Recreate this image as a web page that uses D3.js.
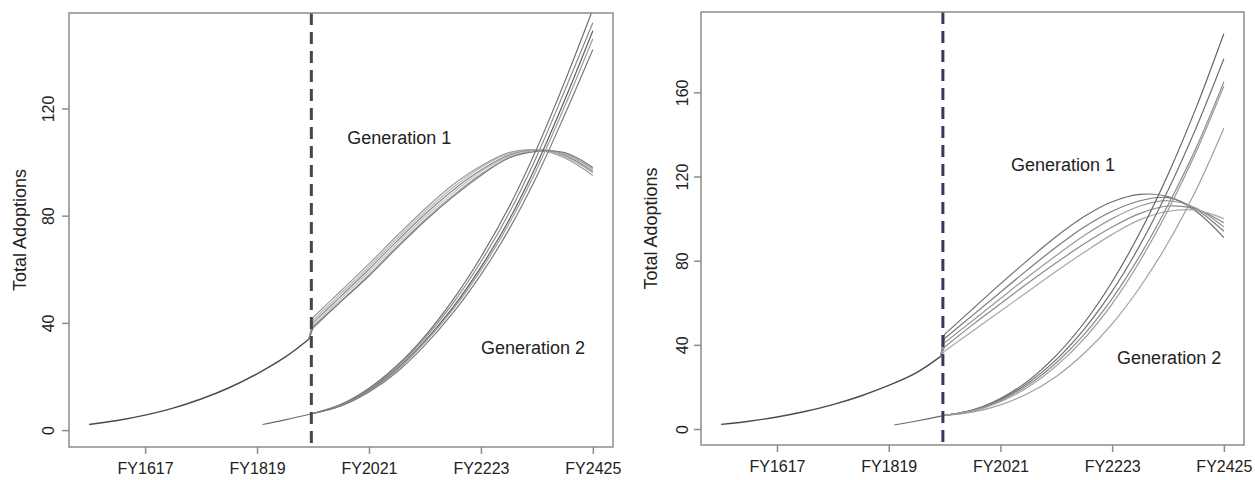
<!DOCTYPE html>
<html>
<head>
<meta charset="utf-8">
<script src="https://cdn.jsdelivr.net/npm/d3@7"></script>
<style>
    body { margin: 0; background: #fff; }
    svg { display: block; font-family: "Liberation Sans", Arial, sans-serif; }
</style>
</head>
<body>
<div id="chart"></div>
<script>
// ---- data ----
const tickYears = [2016, 2018, 2020, 2022, 2024];
const tickLabels = ['FY1617', 'FY1819', 'FY2021', 'FY2223', 'FY2425'];
const histYears = [2015, 2015.5, 2016, 2016.5, 2017, 2017.5, 2018, 2018.5, 2018.93];
const gen2HistYears = [2018.1, 2018.5, 2019];
const forecastYears = [2019, 2019.5, 2020, 2020.5, 2021, 2021.5, 2022, 2022.5, 2023, 2023.5, 2024];
const cutoffYear = 2018.97;

// left panel
const leftHist = [2.1, 3.6, 5.6, 8.2, 11.6, 15.8, 21.0, 27.2, 34.0];
const leftGen2Hist = [2.1, 3.8, 6.2];
const leftGen1 = [
    [42, 52, 62, 72.5, 82.5, 91.5, 98.5, 103.5, 104.5, 101.5, 95],
    [41, 51, 61, 71.5, 81.5, 90.5, 98, 103, 104.5, 102, 96],
    [40, 50, 60, 70.5, 80.5, 89.5, 97, 102.5, 104.5, 102.5, 96.5],
    [39, 49, 59, 69.5, 79.5, 88.5, 96.5, 102, 104.5, 103, 97],
    [38, 48, 58, 68.5, 78.5, 87.5, 95.5, 101.5, 104.5, 103, 97.5],
    [38.5, 48, 57.5, 68, 78, 87, 95, 101.5, 104, 103.5, 98]
];
const leftGen2 = [
    [6.2, 9.6, 15.6, 24.1, 35.1, 48.6, 64.6, 83.1, 105.1, 130.1, 157],
    [6.2, 9.4, 15.2, 23.5, 34.3, 47.3, 62.8, 80.8, 102.3, 126.8, 152],
    [6.2, 9.3, 14.8, 22.8, 33.3, 45.8, 60.8, 78.3, 99.3, 123.3, 149],
    [6.2, 9.2, 14.6, 22.4, 32.7, 45, 59.7, 76.9, 97.4, 120.9, 146],
    [6.2, 9, 14.2, 21.7, 31.7, 43.7, 58, 74.8, 94.8, 117.8, 142]
];
const leftYTicks = [0, 40, 80, 120];

// right panel
const rightHist = [2.2, 3.7, 5.7, 8.3, 11.6, 15.7, 20.7, 26.8, 34.5];
const rightGen2Hist = [1.9, 3.8, 6.5];
const rightGen1 = [
    [45, 57, 69, 80.5, 91.5, 101, 108, 111.5, 110.5, 103.5, 91],
    [43, 54, 65, 76, 86.5, 96, 103.5, 108.5, 110, 104.5, 94],
    [41, 51.5, 62, 72.5, 82.5, 92, 100, 106, 108.5, 105, 96],
    [39, 49.5, 59.5, 69.5, 79, 88, 96, 102.5, 106, 104.5, 98],
    [37, 46.5, 56, 65.5, 75, 84, 92.5, 99.5, 103.5, 104, 100]
];
const rightGen2 = [
    [6.5, 9, 14.5, 23, 35, 50.5, 70, 93.5, 121, 152.5, 188],
    [6.5, 9, 14, 22, 33, 47.5, 65.5, 87.5, 113.5, 143, 176],
    [6.5, 8.8, 13.5, 21, 31.5, 45, 62, 82.5, 106.5, 133.5, 165],
    [6.5, 8.5, 13, 20, 30, 43, 59.5, 80, 104, 131.5, 163],
    [6.5, 8, 11.5, 17, 25, 36, 50, 67.5, 88.5, 113.5, 143]
];
const rightYTicks = [0, 40, 80, 120, 160];

const xDomain = [2015 - 0.36, 2024 + 0.36];

const svg = d3.select('#chart').append('svg')
    .attr('width', 1255)
    .attr('height', 480);

function drawPanel(p) {
    const x = d3.scaleLinear().domain(xDomain).range([p.left, p.right]);
    const y = d3.scaleLinear().domain(p.yDomain).range([p.bottom, p.top]);
    const g = svg.append('g');

    g.append('clipPath').attr('id', p.id + '-clip')
        .append('rect')
        .attr('x', p.left).attr('y', p.top)
        .attr('width', p.right - p.left).attr('height', p.bottom - p.top);

    const plot = g.append('g').attr('clip-path', `url(#${p.id}-clip)`);
    const line = d3.line()
        .x(d => x(d[0]))
        .y(d => y(d[1]))
        .curve(d3.curveCatmullRom.alpha(0.5));
    const straight = d3.line().x(d => x(d[0])).y(d => y(d[1]));

    const histEnd = [histYears[histYears.length - 1], p.hist[p.hist.length - 1]];

    // generation 1 forecasts, joined to the end of the history
    p.gen1.forEach((vals, i) => {
        const pts = forecastYears.map((yr, j) => [yr, vals[j]]);
        const col = p.gen1Colors[i % p.gen1Colors.length];
        plot.append('path')
            .attr('d', straight([histEnd, pts[0]]))
            .attr('fill', 'none').attr('stroke', col).attr('stroke-width', 1.2);
        plot.append('path')
            .attr('d', line(pts))
            .attr('fill', 'none').attr('stroke', col).attr('stroke-width', 1.2);
    });

    // generation 2 forecasts
    p.gen2.forEach((vals, i) => {
        const pts = forecastYears.map((yr, j) => [yr, vals[j]]);
        plot.append('path')
            .attr('d', line(pts))
            .attr('fill', 'none')
            .attr('stroke', p.gen2Colors[i % p.gen2Colors.length])
            .attr('stroke-width', 1.2);
    });

    // history
    plot.append('path')
        .attr('d', line(histYears.map((yr, j) => [yr, p.hist[j]])))
        .attr('fill', 'none')
        .attr('stroke', '#4a4a4a')
        .attr('stroke-width', 1.4);

    plot.append('path')
        .attr('d', line(gen2HistYears.map((yr, j) => [yr, p.gen2Hist[j]])))
        .attr('fill', 'none')
        .attr('stroke', '#6a6a6a')
        .attr('stroke-width', 1.2);

    // cutoff line
    plot.append('line')
        .attr('x1', x(cutoffYear)).attr('x2', x(cutoffYear))
        .attr('y1', p.top).attr('y2', p.bottom)
        .attr('stroke', p.cutColor)
        .attr('stroke-width', 3)
        .attr('stroke-dasharray', '12,7');

    // box
    g.append('rect')
        .attr('x', p.left).attr('y', p.top)
        .attr('width', p.right - p.left).attr('height', p.bottom - p.top)
        .attr('fill', 'none')
        .attr('stroke', '#8c8c8c')
        .attr('stroke-width', 1.5);

    // x axis
    const xAxis = g.append('g')
        .attr('transform', `translate(0,${p.bottom})`)
        .call(d3.axisBottom(x).tickValues(tickYears)
            .tickFormat((d, i) => tickLabels[i]).tickSize(7).tickSizeOuter(0));
    xAxis.select('.domain').remove();
    xAxis.selectAll('line').attr('stroke', '#8c8c8c').attr('stroke-width', 1.5);
    xAxis.selectAll('text')
        .attr('y', 16)
        .attr('fill', '#222')
        .style('font-size', '16px');

    // y axis
    const yAxis = g.append('g')
        .attr('transform', `translate(${p.left},0)`)
        .call(d3.axisLeft(y).tickValues(p.yTicks).tickSize(7).tickSizeOuter(0));
    yAxis.select('.domain').remove();
    yAxis.selectAll('line').attr('stroke', '#8c8c8c').attr('stroke-width', 1.5);
    yAxis.selectAll('text')
        .attr('transform', 'rotate(-90)')
        .attr('x', 0)
        .attr('y', -p.yLabelOffset)
        .attr('dy', '0.35em')
        .attr('text-anchor', 'middle')
        .attr('fill', '#222')
        .style('font-size', '16px');

    // axis title
    g.append('text')
        .attr('transform', `translate(${p.titleX},${(p.top + p.bottom) / 2}) rotate(-90)`)
        .attr('text-anchor', 'middle')
        .attr('dy', '0.35em')
        .attr('fill', '#222')
        .style('font-size', '18px')
        .text('Total Adoptions');

    // series labels
    p.labels.forEach(l => {
        g.append('text')
            .attr('x', x(l.year))
            .attr('y', y(l.value))
            .attr('text-anchor', 'middle')
            .attr('dy', '0.35em')
            .attr('fill', '#222')
            .style('font-size', '18px')
            .text(l.text);
    });
}

drawPanel({
    id: 'left', left: 69, right: 613, top: 13, bottom: 447,
    yDomain: [-6.3, 155.6], yTicks: leftYTicks,
    hist: leftHist, gen2Hist: leftGen2Hist, gen1: leftGen1, gen2: leftGen2,
    gen1Colors: ['#9a9a9a', '#b4b4b4', '#888', '#c0c0c0', '#a6a6a6', '#7c7c7c'],
    gen2Colors: ['#6e6e6e', '#8a8a8a', '#5e5e5e', '#9c9c9c', '#7a7a7a'],
    cutColor: '#474747', yLabelOffset: 21, titleX: 20,
    labels: [
        { text: 'Generation 1', year: 2020.54, value: 109 },
        { text: 'Generation 2', year: 2022.93, value: 30.6 }
    ]
});

drawPanel({
    id: 'right', left: 701, right: 1244, top: 12, bottom: 445,
    yDomain: [-7.6, 198.2], yTicks: rightYTicks,
    hist: rightHist, gen2Hist: rightGen2Hist, gen1: rightGen1, gen2: rightGen2,
    gen1Colors: ['#6e6e6e', '#7a7a7a', '#999', '#8a8a8a', '#a8a8a8'],
    gen2Colors: ['#666', '#707070', '#8a8a8a', '#9a9a9a', '#a0a0a0'],
    cutColor: '#353a5c', yLabelOffset: 19, titleX: 651,
    labels: [
        { text: 'Generation 1', year: 2021.12, value: 125.4 },
        { text: 'Generation 2', year: 2023.02, value: 33.7 }
    ]
});
</script>
</body>
</html>
